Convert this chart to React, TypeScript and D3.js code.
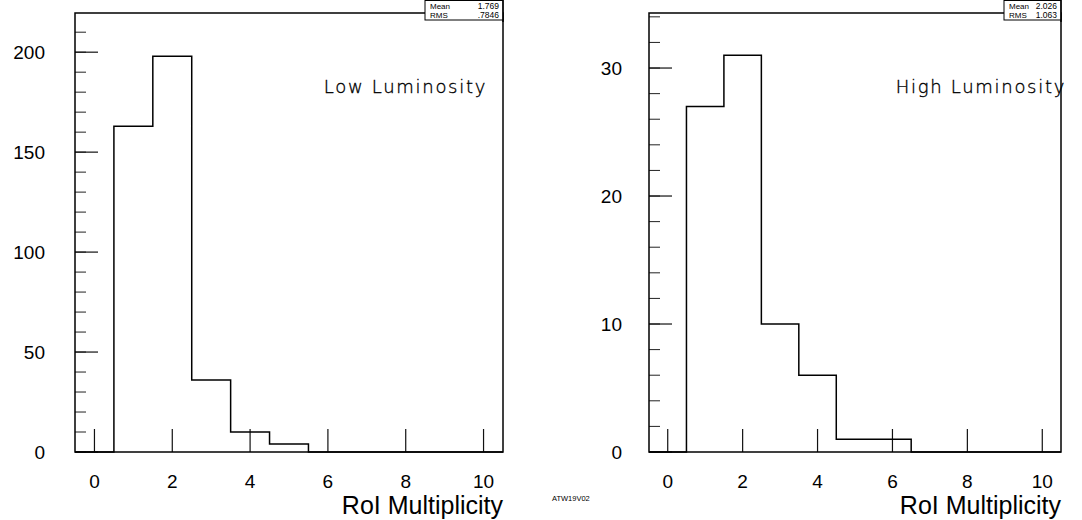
import React, { useEffect, useRef } from 'react';
import * as d3 from 'd3';

// histogram bins (centres), counts
const binCenters = [0, 1, 2, 3, 4, 5, 6, 7, 8, 9, 10];
const lowCounts = [0, 163, 198, 36, 10, 4, 0, 0, 0, 0, 0];
const highCounts = [0, 27, 31, 10, 6, 1, 1, 0, 0, 0, 0];

const xTicks = [0, 2, 4, 6, 8, 10];
const lowYTicks = [0, 50, 100, 150, 200];
const highYTicks = [0, 10, 20, 30];

const lowStats = ['1.769', '.7846'];
const highStats = ['2.026', '1.063'];
const statNames = ['Mean', 'RMS'];

const panels = [
  { counts: lowCounts, yTicks: lowYTicks, yMax: 219.6, minorStep: 10, stats: lowStats, title: 'Low Luminosity', left: 75, right: 503, labelGap: 30, titleEnd: 487, boxW: 78 },
  { counts: highCounts, yTicks: highYTicks, yMax: 34.3, minorStep: 2, stats: highStats, title: 'High Luminosity', left: 649, right: 1061, labelGap: 27, titleEnd: 1066, boxW: 57 },
];

const top = 13, bottom = 452;
const sans = 'Liberation Sans, Arial, sans-serif';

const App = () => {
  const ref = useRef(null);

  useEffect(() => {
    const svg = d3.select(ref.current);
    svg.selectAll('*').remove();

    panels.forEach(p => {
      const x = d3.scaleLinear().domain([-0.5, 10.5]).range([p.left, p.right]);
      const y = d3.scaleLinear().domain([0, p.yMax]).range([bottom, top]);
      const g = svg.append('g');

      // y ticks: minor and major drawn inside the frame
      const minor = d3.range(0, p.yMax, p.minorStep);
      g.selectAll('.ymin').data(minor).enter().append('line')
        .attr('x1', p.left).attr('x2', p.left + 11)
        .attr('y1', d => y(d)).attr('y2', d => y(d))
        .attr('stroke', '#222').attr('stroke-width', 1);
      g.selectAll('.ymaj').data(p.yTicks).enter().append('line')
        .attr('x1', p.left).attr('x2', p.left + 23)
        .attr('y1', d => y(d)).attr('y2', d => y(d))
        .attr('stroke', '#111').attr('stroke-width', 1.2);
      g.selectAll('.ylab').data(p.yTicks).enter().append('text')
        .attr('x', p.left - p.labelGap).attr('y', d => y(d) + 7)
        .attr('text-anchor', 'end').attr('font-family', sans).attr('font-size', 19)
        .text(d => d);

      // x ticks
      g.selectAll('.xmaj').data(xTicks).enter().append('line')
        .attr('x1', d => x(d)).attr('x2', d => x(d))
        .attr('y1', bottom).attr('y2', bottom - 23)
        .attr('stroke', '#111').attr('stroke-width', 1.2);
      g.selectAll('.xlab').data(xTicks).enter().append('text')
        .attr('x', d => x(d)).attr('y', 488)
        .attr('text-anchor', 'middle').attr('font-family', sans).attr('font-size', 19)
        .text(d => d);

      // histogram outline
      const pts = [[-0.5, 0]];
      binCenters.forEach((c, i) => {
        pts.push([c - 0.5, p.counts[i]]);
        pts.push([c + 0.5, p.counts[i]]);
      });
      pts.push([10.5, 0]);
      const line = d3.line().x(d => x(d[0])).y(d => y(d[1]));
      g.append('path').attr('d', line(pts))
        .attr('fill', 'none').attr('stroke', '#000').attr('stroke-width', 1.5);

      // frame
      g.append('rect')
        .attr('x', p.left).attr('y', top)
        .attr('width', p.right - p.left).attr('height', bottom - top)
        .attr('fill', 'none').attr('stroke', '#000').attr('stroke-width', 1.5);

      // stats box
      const box = g.append('g');
      box.append('rect')
        .attr('x', p.right - p.boxW).attr('y', 0.5)
        .attr('width', p.boxW).attr('height', 19.5)
        .attr('fill', '#fff').attr('stroke', '#000').attr('stroke-width', 1);
      statNames.forEach((n, i) => {
        box.append('text').attr('x', p.right - p.boxW + 5).attr('y', 8.5 + i * 9)
          .attr('font-family', sans).attr('font-size', 8).text(n);
        box.append('text').attr('x', p.right - 4).attr('y', 8.5 + i * 9)
          .attr('text-anchor', 'end').attr('font-family', sans).attr('font-size', 8.5).text(p.stats[i]);
      });
      box.append('line')
        .attr('x1', p.right).attr('x2', p.right).attr('y1', 0).attr('y2', 22)
        .attr('stroke', '#000').attr('stroke-width', 1.5);

      // in-plot title
      g.append('text').attr('x', p.titleEnd).attr('y', 93)
        .attr('text-anchor', 'end').attr('font-family', 'DejaVu Sans, sans-serif')
        .attr('font-weight', 200).attr('font-size', 18).attr('letter-spacing', 1.7)
        .attr('fill', '#000').attr('stroke', '#000').attr('stroke-width', 0.35)
        .text(p.title);

      // axis title
      g.append('text').attr('x', p.right).attr('y', 514)
        .attr('text-anchor', 'end').attr('font-family', sans).attr('font-size', 25)
        .text('RoI Multiplicity');
    });

    svg.append('text').attr('x', 552).attr('y', 501)
      .attr('font-family', sans).attr('font-size', 7.5).text('ATW19V02');
  }, []);

  return (
    <svg ref={ref} width={1082} height={520}
      style={{ position: 'absolute', left: 0, top: 0, background: '#fff' }} />
  );
};

export default App;
